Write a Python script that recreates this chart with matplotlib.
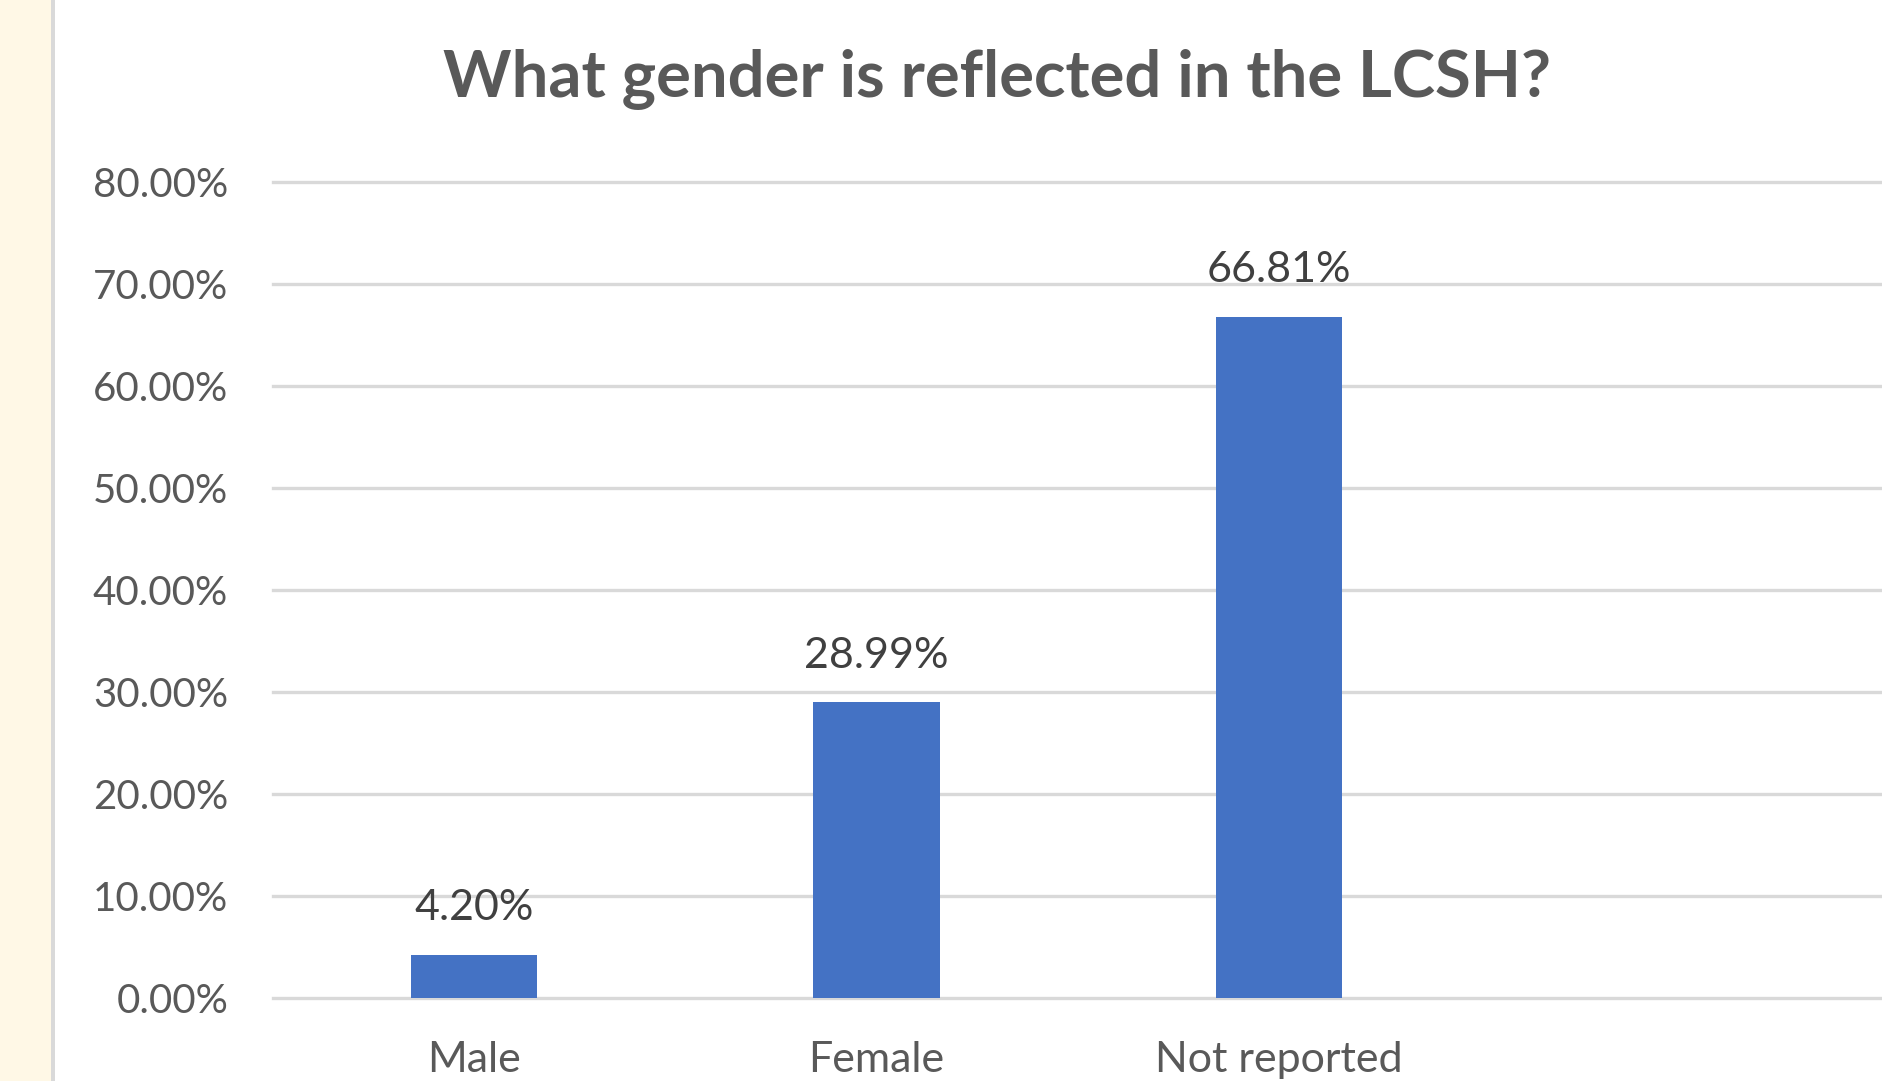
import numpy as np
import matplotlib.pyplot as plt
from matplotlib.patches import Rectangle
from matplotlib.ticker import FuncFormatter

# data
categories = ['Male', 'Female', 'Not reported']
shares = [4.20, 28.99, 66.81]
y_ticks = [0, 10, 20, 30, 40, 50, 60, 70, 80]

plt.rcParams['font.family'] = ['Lato', 'DejaVu Sans']

fig = plt.figure(figsize=(18.83, 10.81), dpi=100)
fig.patch.set_facecolor('white')

# cream strip and border on the left edge
fig.patches.append(Rectangle((0, 0), 51 / 1883, 1, transform=fig.transFigure,
                             facecolor='#FFF8E6', edgecolor='none', zorder=0))
fig.patches.append(Rectangle((51 / 1883, 0), 4 / 1883, 1, transform=fig.transFigure,
                             facecolor='#D9D9D9', edgecolor='none', zorder=0))

ax = fig.add_axes([272.6 / 1883, 83 / 1081, 1 - 272.6 / 1883, 815.5 / 1081])
x = np.arange(len(categories))
bars = ax.bar(x, shares, width=0.313, color='#4472C4', zorder=3)

ax.set_xlim(-0.5, 3.5)
ax.set_ylim(0, 80)
ax.set_yticks(y_ticks)
ax.yaxis.set_major_formatter(FuncFormatter(lambda v, p: f'{v:.2f}%'))
ax.set_xticks(x)
ax.set_xticklabels(categories)

ax.grid(axis='y', color='#D9D9D9', linewidth=2.4, zorder=0)
ax.set_axisbelow(True)
for s in ax.spines.values():
    s.set_visible(False)
ax.tick_params(axis='y', length=0, pad=32, labelsize=29, labelcolor='#595959')
ax.tick_params(axis='x', length=0, pad=31, labelsize=31, labelcolor='#595959')
for gl in ax.get_ygridlines():
    gl.set_clip_on(False)

for b, v in zip(bars, shares):
    ax.annotate(f'{v:.2f}%', (b.get_x() + b.get_width() / 2, v),
                xytext=(0, 20), textcoords='offset points',
                ha='center', va='bottom', fontsize=31, color='#404040')

fig.text(997 / 1883, 1 - 80 / 1081, 'What gender is reflected in the LCSH?',
         ha='center', va='center', fontsize=47, fontweight='bold', color='#595959')

fig.savefig('out.png', dpi=100)
